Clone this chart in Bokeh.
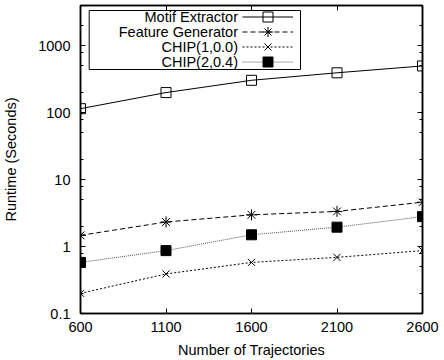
from bokeh.plotting import figure
from bokeh.models import (FixedTicker, LogAxis, LinearAxis, Legend, LegendItem,
                          BoxAnnotation, Range1d, BasicTickFormatter, Label)
from bokeh.embed import file_html
from bokeh.resources import INLINE

# ---- data ----
trajectories = [600, 1100, 1600, 2100, 2600]
motif_extractor = [115, 200, 305, 395, 500]
feature_generator = [1.47, 2.33, 2.98, 3.35, 4.6]
chip_1_00 = [0.2, 0.39, 0.58, 0.69, 0.87]
chip_2_04 = [0.58, 0.87, 1.5, 1.95, 2.8]

series_names = ["Motif Extractor", "Feature Generator", "CHIP(1,0.0)", "CHIP(2,0.4)"]

x_ticks = [600, 1100, 1600, 2100, 2600]
y_ticks = [0.1, 1, 10, 100, 1000]
y_tick_labels = ["0.1", "1", "10", "100", "1000"]
y_minor_multipliers = [2, 5, 8]

FONT = "Liberation Sans"
FS = "14.5px"

y_minor = [d * m for d in y_ticks for m in y_minor_multipliers if d * m < 4000]

FRAME_H = 308
p = figure(frame_width=342, frame_height=FRAME_H, output_backend="svg", toolbar_location=None,
           y_axis_type="log", x_range=Range1d(600, 2600), y_range=Range1d(0.1, 4000),
           min_border_left=76, min_border_right=18, min_border_top=5, min_border_bottom=46)
p.grid.visible = False
p.outline_line_color = "black"
p.outline_line_width = 1.5
p.background_fill_color = "white"
p.border_fill_color = "white"

def style_axis(ax, labels=True):
    ax.axis_line_color = "black"
    ax.axis_line_width = 1.5
    ax.major_tick_in = 5
    ax.major_tick_out = 0
    ax.minor_tick_in = 3
    ax.minor_tick_out = 0
    ax.major_tick_line_color = "black"
    ax.minor_tick_line_color = "black"
    ax.major_label_text_font = FONT
    ax.major_label_text_color = "black"
    ax.major_label_text_line_height = 1.0
    ax.axis_label_text_font = FONT
    ax.axis_label_text_font_size = FS
    ax.axis_label_text_font_style = "normal"
    ax.axis_label_text_color = "black"
    ax.axis_label_text_line_height = 1.0
    if labels:
        ax.major_label_text_font_size = FS
    else:
        ax.major_label_text_font_size = "1px"
        ax.major_label_text_color = None
        ax.major_label_standoff = 0

xa = p.xaxis[0]
style_axis(xa)
xa.ticker = FixedTicker(ticks=x_ticks)
xa.minor_tick_line_color = None
xa.major_label_standoff = 8
xa.axis_label = "Number of Trajectories"
xa.axis_label_standoff = 7

ya = p.yaxis[0]
style_axis(ya)
ya.ticker = FixedTicker(ticks=y_ticks, minor_ticks=y_minor)
ya.formatter = BasicTickFormatter()
ya.major_label_overrides = {t: s for t, s in zip(y_ticks, y_tick_labels)}
ya.major_label_standoff = 10
ya.axis_label = "Runtime (Seconds)"
ya.axis_label_standoff = 16

top = LinearAxis(ticker=FixedTicker(ticks=x_ticks))
style_axis(top, labels=False)
top.minor_tick_line_color = None
p.add_layout(top, "above")

right = LogAxis(ticker=FixedTicker(ticks=y_ticks, minor_ticks=y_minor))
style_axis(right, labels=False)
p.add_layout(right, "right")

# ---- series ----
l1 = p.line(trajectories, motif_extractor, line_color="black", line_width=1)
s1 = p.scatter(trajectories, motif_extractor, marker="square", size=10,
               fill_color="white", fill_alpha=0, line_color="black", line_width=1)

l2 = p.line(trajectories, feature_generator, line_color="black", line_width=1, line_dash="5 3")
s2 = p.scatter(trajectories, feature_generator, marker="asterisk", size=11,
               line_color="black", line_width=1)

l3 = p.line(trajectories, chip_1_00, line_color="black", line_width=1, line_dash="2 2")
s3 = p.scatter(trajectories, chip_1_00, marker="x", size=10,
               line_color="black", line_width=1)

l4 = p.line(trajectories, chip_2_04, line_color="#555555", line_width=1, line_dash="1 1")
s4 = p.scatter(trajectories, chip_2_04, marker="square", size=10,
               fill_color="black", line_color="black", line_width=1)

# ---- gnuplot-style key: text on the left, sample on the right ----
renderer_groups = [[l1, s1], [l2, s2], [l3, s3], [l4, s4]]

ROW = 15        # key row pitch (px)
GH = 25         # legend glyph box height (gives ~10px markers)
FIRST = 11.8    # first key row centre below the frame top (px)

for i, (name, group) in enumerate(zip(series_names, renderer_groups)):
    centre = FRAME_H - FIRST - i * ROW          # from frame bottom
    lg = Legend(items=[LegendItem(label=name, renderers=group)],
                location=(162, round(centre - GH / 2)),
                glyph_width=51, glyph_height=GH,
                label_height=GH, label_width=0, label_standoff=0,
                label_text_font=FONT, label_text_font_size="1px", label_text_color=None,
                padding=0, margin=0, spacing=0,
                border_line_alpha=0, background_fill_alpha=0)
    p.add_layout(lg)
    p.add_layout(Label(x=157.5, y=centre, x_units="screen", y_units="screen",
                       text=name, text_align="right", text_baseline="middle",
                       text_font=FONT, text_font_size=FS, text_color="black"))

box = BoxAnnotation(left=8.7, right=220, top=FRAME_H - 5, bottom=FRAME_H - 64,
                    left_units="screen", right_units="screen",
                    top_units="screen", bottom_units="screen",
                    fill_alpha=0, line_color="black", line_width=1, line_alpha=1)
p.add_layout(box)

open("out.html", "w").write(file_html(p, INLINE))
